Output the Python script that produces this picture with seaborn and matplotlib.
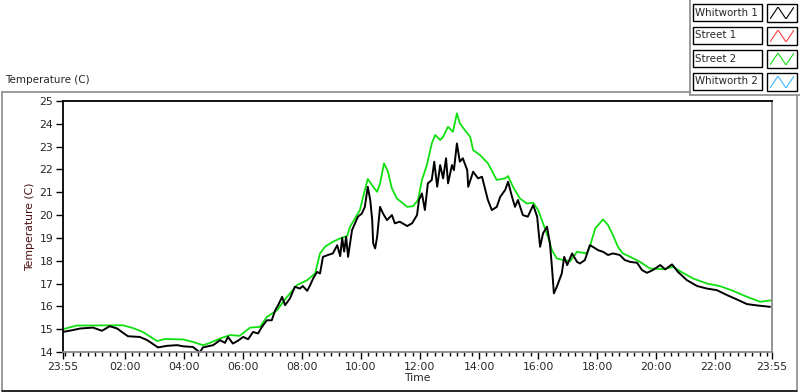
import numpy as np
import pandas as pd
import seaborn as sns
import matplotlib.pyplot as plt
from matplotlib.patches import Rectangle
from matplotlib.lines import Line2D

# minutes since 23:55, temperature in C
street2_min = [0, 28, 122, 142, 162, 191, 207, 244, 264, 284, 295, 319, 339, 359, 380, 400,
               414, 435, 447, 461, 475, 496, 512, 522, 532, 548, 563, 577, 583, 603, 613, 619,
               630, 638, 644, 652, 660, 668, 678, 699, 711, 721, 729, 739, 749, 756, 766, 772,
               782, 792, 800, 806, 816, 827, 833, 847, 863, 881, 898, 904, 914, 928, 942, 955,
               965, 975, 985, 993, 1003, 1016, 1030, 1044, 1064, 1070, 1081, 1097, 1107, 1117,
               1127, 1137, 1152, 1172, 1192, 1219, 1239, 1259, 1280, 1308, 1334, 1361, 1389,
               1416, 1440]
street2_temp = [15.0, 15.16, 15.17, 15.05, 14.88, 14.48, 14.57, 14.55, 14.44, 14.3, 14.37, 14.59,
                14.74, 14.71, 15.07, 15.1, 15.54, 15.83, 16.2, 16.57, 16.93, 17.15, 17.44, 18.32,
                18.61, 18.83, 18.98, 19.08, 19.49, 20.22, 21.1, 21.58, 21.24, 21.02, 21.39, 22.27,
                21.9, 21.17, 20.73, 20.36, 20.39, 20.66, 21.54, 22.19, 23.14, 23.51, 23.29, 23.43,
                23.87, 23.65, 24.46, 24.02, 23.73, 23.43, 22.85, 22.63, 22.27, 21.54, 21.61, 21.71,
                21.24, 20.73, 20.51, 20.54, 20.22, 19.64, 19.05, 18.46, 18.1, 18.03, 17.98, 18.39,
                18.32, 18.61, 19.42, 19.81, 19.56, 19.12, 18.61, 18.32, 18.17, 17.95, 17.66, 17.63,
                17.73, 17.47, 17.22, 17.0, 16.89, 16.68, 16.42, 16.2, 16.27]

whitworth1_min = [0, 20, 35, 61, 79, 95, 110, 122, 132, 156, 171, 193, 211, 232, 244, 264, 278,
                  284, 295, 305, 319, 329, 335, 345, 355, 366, 376, 386, 396, 404, 414, 424, 431,
                  437, 445, 451, 461, 471, 481, 487, 496, 502, 508, 516, 522, 528, 538, 548, 557,
                  563, 567, 571, 575, 579, 587, 593, 599, 607, 613, 619, 624, 628, 630, 634, 638,
                  644, 650, 658, 668, 674, 684, 699, 709, 719, 723, 729, 735, 741, 749, 754, 760,
                  766, 772, 778, 782, 790, 794, 800, 806, 812, 821, 823, 833, 843, 851, 857, 863,
                  867, 871, 881, 888, 898, 904, 912, 918, 924, 934, 944, 955, 963, 969, 975, 983,
                  989, 993, 997, 1003, 1013, 1018, 1024, 1034, 1044, 1050, 1060, 1070, 1076, 1087,
                  1097, 1107, 1117, 1131, 1141, 1152, 1166, 1176, 1186, 1198, 1213, 1223, 1237,
                  1249, 1267, 1288, 1308, 1328, 1349, 1369, 1389, 1410, 1436]
whitworth1_temp = [14.88, 14.96, 15.03, 15.07, 14.93, 15.13, 15.03, 14.84, 14.69, 14.66, 14.52,
                   14.2, 14.27, 14.3, 14.25, 14.22, 13.98, 14.2, 14.25, 14.3, 14.52, 14.4, 14.66,
                   14.37, 14.49, 14.66, 14.56, 14.88, 14.81, 15.1, 15.39, 15.39, 15.83, 16.05,
                   16.42, 16.05, 16.35, 16.86, 16.78, 16.89, 16.68, 16.93, 17.22, 17.51, 17.44,
                   18.17, 18.25, 18.32, 18.68, 18.2, 19.0, 18.4, 19.05, 18.17, 19.34, 19.64, 19.93,
                   20.07, 20.36, 21.24, 20.66, 19.78, 18.76, 18.54, 19.05, 20.36, 20.07, 19.78,
                   20.0, 19.64, 19.71, 19.52, 19.64, 20.0, 20.66, 20.95, 20.22, 21.39, 21.54, 22.34,
                   21.24, 22.19, 21.61, 22.49, 21.39, 22.19, 21.97, 23.14, 22.34, 22.49, 21.97,
                   21.24, 21.9, 21.61, 21.68, 21.17, 20.66, 20.44, 20.22, 20.36, 20.8, 21.1, 21.46,
                   20.8, 20.36, 20.66, 20.0, 19.93, 20.44, 19.93, 18.61, 19.2, 19.49, 18.76, 17.73,
                   16.57, 16.86, 17.44, 18.17, 17.81, 18.32, 17.95, 17.88, 18.03, 18.68, 18.61,
                   18.46, 18.39, 18.25, 18.32, 18.25, 18.03, 17.95, 17.91, 17.59, 17.47, 17.59,
                   17.81, 17.62, 17.84, 17.51, 17.15, 16.89, 16.78, 16.71, 16.49, 16.3, 16.1, 16.04,
                   15.98]

tick_minutes = [0, 125, 245, 365, 485, 605, 725, 845, 965, 1085, 1205, 1325, 1440]
tick_labels = ["23:55", "02:00", "04:00", "06:00", "08:00", "10:00", "12:00", "14:00",
               "16:00", "18:00", "20:00", "22:00", "23:55"]
y_ticks = list(range(14, 26))

legend_names = ["Whitworth 1", "Street 1", "Street 2", "Whitworth 2"]
legend_colors = ["#000000", "#ff4040", "#10e010", "#40b8ff"]

sns.set_theme(style="white")
plt.rcParams['font.family'] = ['DejaVu Sans']

fig = plt.figure(figsize=(8, 3.92), dpi=100)
W, H = 800, 392
grey = "#8a8a8a"


def fig_line(xs, ys, color=grey, lw=1.2):
    # frame decoration, given in pixel coordinates from the top-left corner
    fig.add_artist(Line2D([x / W for x in xs], [1 - y / H for y in ys],
                          transform=fig.transFigure, color=color, linewidth=lw))


# outer panel frame
fig_line([2, 2], [92, 390])
fig_line([2, 690], [92, 92])
fig_line([690, 690], [0, 95])
fig_line([690, 800], [95, 95])
fig_line([797, 797], [95, 390])
fig_line([2, 797], [390.5, 390.5], color="black")
fig.text(5 / W, 1 - 80 / H, "Temperature (C)", fontsize=7.5, ha="left", va="center")

ax = fig.add_axes([63 / W, 40 / H, 709 / W, 251 / H])
df_s2 = pd.DataFrame({"t": street2_min, "temp": street2_temp})
df_w1 = pd.DataFrame({"t": whitworth1_min, "temp": whitworth1_temp})
sns.lineplot(data=df_s2, x="t", y="temp", ax=ax, color=legend_colors[2], linewidth=1.3,
             estimator=None, sort=False)
sns.lineplot(data=df_w1, x="t", y="temp", ax=ax, color="black", linewidth=1.4,
             estimator=None, sort=False)

ax.set_xlim(0, 1440)
ax.set_ylim(14, 25)
ax.set_yticks(y_ticks)
ax.set_yticklabels([str(v) for v in y_ticks], fontsize=7.8)
ax.set_xticks(tick_minutes)
ax.set_xticklabels(tick_labels, fontsize=7.8)
ax.set_xticks(np.arange(5, 1440, 15), minor=True)
ax.tick_params(axis="both", which="major", direction="out", length=5, width=1, color="black",
               pad=2, bottom=True, left=True)
ax.tick_params(axis="x", which="minor", direction="out", length=3, width=1, color="black",
               bottom=True)
ax.set_xlabel("Time", fontsize=7.8, labelpad=1)
ax.set_ylabel("Temperature (C)", fontsize=7.8, color="#4a1010", labelpad=3)
for side in ["left", "top"]:
    ax.spines[side].set_color("black")
    ax.spines[side].set_linewidth(1.3)
for side in ["right", "bottom"]:
    ax.spines[side].set_color(grey)
    ax.spines[side].set_linewidth(1.3)

# legend panel
row_tops = [4, 27, 50, 73]
for name, col, top in zip(legend_names, legend_colors, row_tops):
    fig.patches.append(Rectangle((693 / W, 1 - (top + 17) / H), 69 / W, 17 / H,
                                 transform=fig.transFigure, fill=False,
                                 edgecolor="black", linewidth=1))
    fig.text(695 / W, 1 - (top + 8.5) / H, name, fontsize=7.4, ha="left", va="center")
    fig.patches.append(Rectangle((767 / W, 1 - (top + 18) / H), 30 / W, 18 / H,
                                 transform=fig.transFigure, fill=False,
                                 edgecolor="black", linewidth=1))
    iax = fig.add_axes([770 / W, 1 - (top + 15) / H, 24 / W, 12 / H])
    iax.plot([0, 1, 2, 3], [0, 1, 0, 1], color=col, linewidth=0.8)
    iax.set_xlim(0, 3)
    iax.set_ylim(0, 1)
    iax.axis("off")

fig.savefig("out.png", dpi=100)
